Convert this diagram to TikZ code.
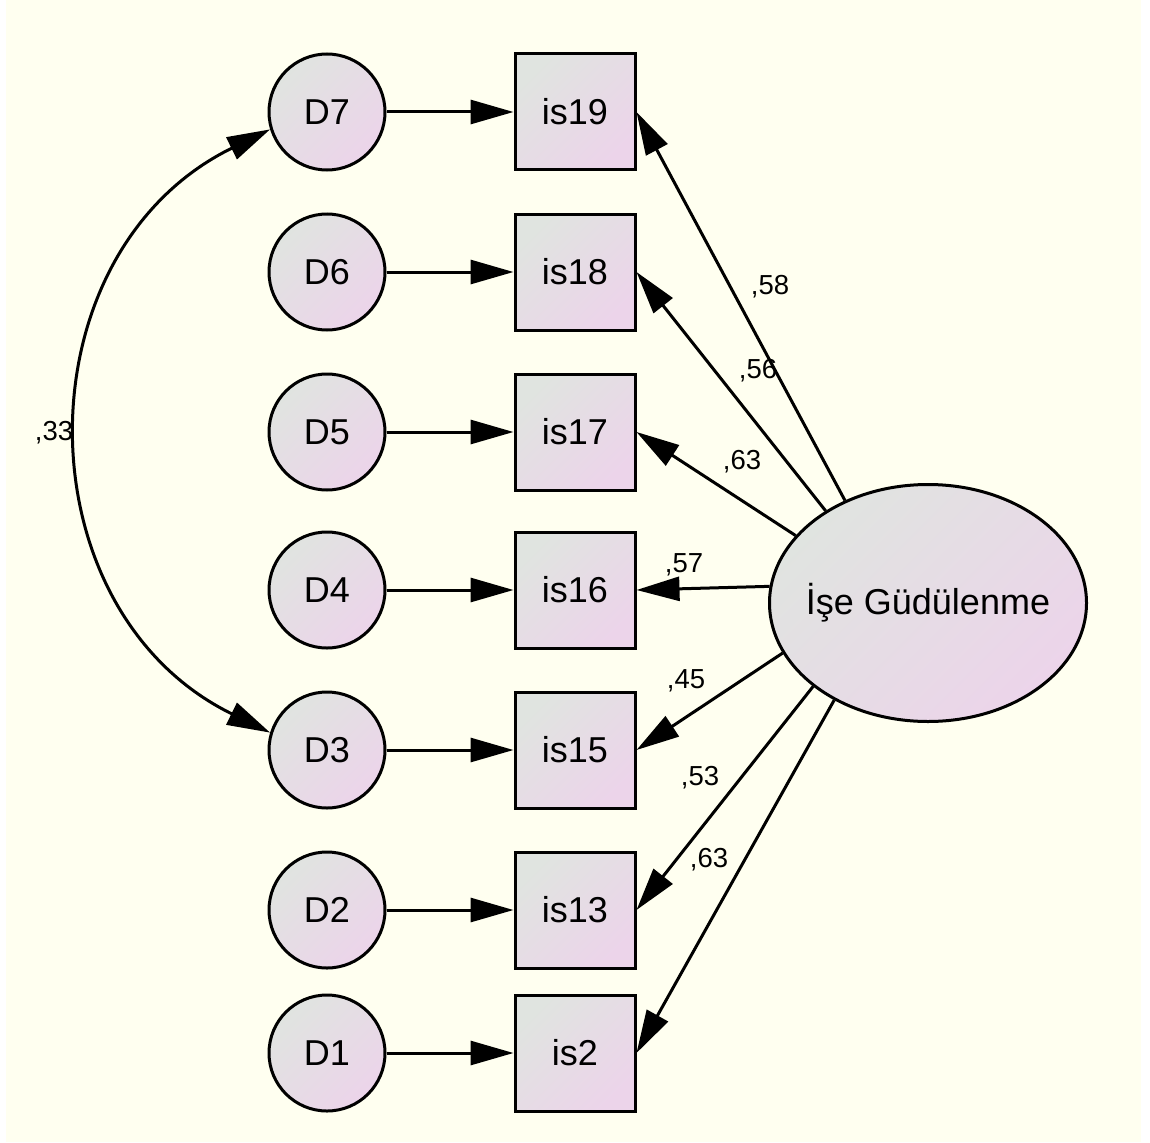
\documentclass[tikz,border=0pt]{standalone}
\usepackage{fontspec}
\setmainfont{Liberation Sans}
\usetikzlibrary{arrows.meta,shapes.geometric}
\definecolor{paper}{RGB}{255,255,240}
\definecolor{shadeA}{RGB}{224,228,224}
\definecolor{shadeB}{RGB}{236,212,234}
\begin{document}
\begin{tikzpicture}[x=1pt,y=-1pt,
  base/.style={draw=black, line width=3pt, top color=shadeA, bottom color=shadeB,
    shading angle=45, font=\fontsize{36}{42}\selectfont, inner sep=0pt},
  errc/.style={base, circle, minimum size=116pt},
  obs/.style={base, rectangle, minimum width=120pt, minimum height=116pt},
  lat/.style={base, ellipse, minimum width=317pt, minimum height=237pt,
    label={[font=\fontsize{36}{42}\selectfont, inner sep=0pt]center:#1}},
  tip/.tip={Triangle[length=43pt,width=24pt]},
  reg/.style={line width=3pt, -tip},
  cov/.style={line width=3pt, tip-tip},
  coef/.style={font=\fontsize{27.5}{30}\selectfont, inner sep=0pt}
]
% page and background
\fill[white] (0,0) rectangle (1150,1142);
\fill[paper] (6,0) rectangle (1141,1142);
\useasboundingbox (0,0) rectangle (1150,1142);

% error terms
\node[errc] (D7) at (327,112) {D7};
\node[errc] (D6) at (327,272) {D6};
\node[errc] (D5) at (327,432) {D5};
\node[errc] (D4) at (327,590) {D4};
\node[errc] (D3) at (327,750) {D3};
\node[errc] (D2) at (327,910) {D2};
\node[errc] (D1) at (327,1053) {D1};

% observed items
\node[obs] (is19) at (575,112) {is19};
\node[obs] (is18) at (575,272) {is18};
\node[obs] (is17) at (575,432) {is17};
\node[obs] (is16) at (575,590) {is16};
\node[obs] (is15) at (575,750) {is15};
\node[obs] (is13) at (575,910) {is13};
\node[obs] (is2)  at (575,1053) {is2};

% latent factor
\node[lat={İşe Güdülenme}] (F) at (928,603) {};

% error paths
\foreach \d/\i in {D7/is19,D6/is18,D5/is17,D4/is16,D3/is15,D2/is13,D1/is2}
  \draw[reg] (\d) -- (\i);

% factor loadings
\draw[reg] (F.129)   -- (is19.east);
\draw[reg] (F.138.5) -- (is18.east);
\draw[reg] (F.153)   -- (is17.east);
\draw[reg] (F.174.6) -- (is16.east);
\draw[reg] (F.199.4) -- (is15.east);
\draw[reg] (F.216.5) -- (is13.east);
\draw[reg] (F.226.5) -- (is2.east);

% error covariance
\draw[cov] (D7.197) .. controls +(-251,123) and +(-251,-123) .. (D3.163);

% coefficients
\node[coef] (c19) at (770,287) {,58};
\node[coef] (c18) at (758,371) {,56};
\node[coef] (c17) at (742,462) {,63};
\node[coef] (c16) at (684,565) {,57};
\node[coef] (c15) at (686,681) {,45};
\node[coef] (c13) at (700,778) {,53};
\node[coef] (c2)  at (709,860) {,63};
\node[coef] (c33) at (54,433) {,33};
\end{tikzpicture}
\end{document}
